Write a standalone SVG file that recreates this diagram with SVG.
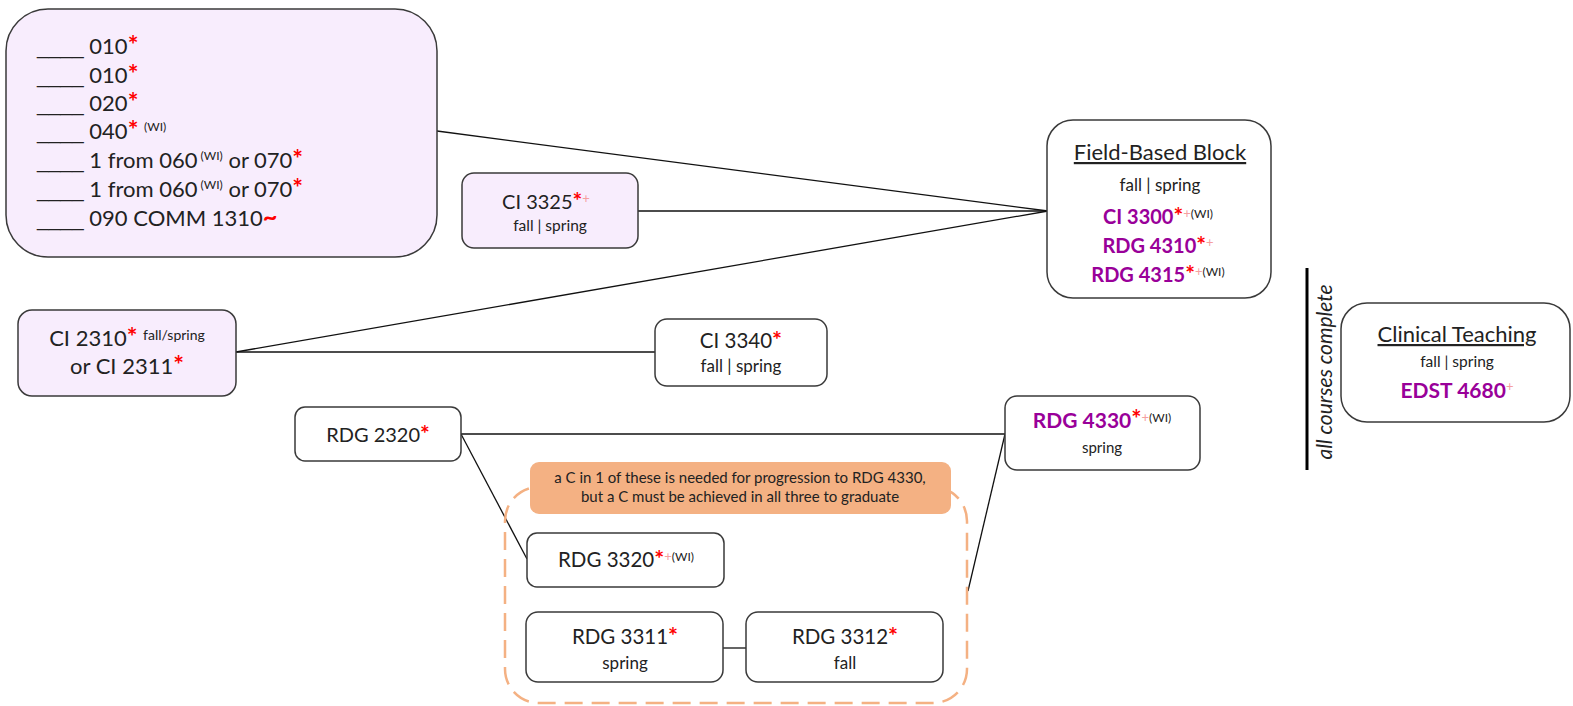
<svg xmlns="http://www.w3.org/2000/svg" width="1573" height="706" viewBox="0 0 1573 706">
<style>
.box{fill:#ffffff;stroke:#3a3a3a;stroke-width:1.5}
.lav{fill:#f8edfd}
.t{font-family:Lato,"Open Sans","Liberation Sans",sans-serif;fill:#222222}
.u{font-family:"Liberation Sans",Arial,sans-serif;font-size:21px}
.l20{font-size:20px}
.l22{font-size:22px}
.l15{font-size:15px}
.l16{font-size:15.5px}
.l17{font-size:17px}
.ast{fill:#ff0000;font-weight:bold;font-size:1.15em}
.plus{fill:#f5a0a0;font-size:13px}
.sup{font-size:12px}
.pur{fill:#990099;font-weight:bold}
.conn{stroke:#111111;stroke-width:1.3;fill:none}
</style>
<rect width="1573" height="706" fill="#ffffff"/>
<g id="connectors">
<line class="conn" x1="437" y1="131" x2="1048" y2="211"/>
<line class="conn" x1="638" y1="211" x2="1048" y2="211"/>
<line class="conn" x1="236" y1="352" x2="1048" y2="211"/>
<line class="conn" x1="236" y1="352" x2="655" y2="352"/>
<line class="conn" x1="461" y1="434" x2="1005" y2="434"/>
<line class="conn" x1="461" y1="434" x2="527" y2="559"/>
<line class="conn" x1="1005" y1="434" x2="968" y2="591"/>
<line class="conn" x1="723" y1="648" x2="746" y2="648"/>
</g>
<g id="gen-ed">
<rect class="box lav" x="6" y="9" width="431" height="248" rx="42"/>
<text class="t l22" x="37" y="54"><tspan class="u">____</tspan> 010<tspan class="ast">*</tspan></text>
<text class="t l22" x="37" y="83"><tspan class="u">____</tspan> 010<tspan class="ast">*</tspan></text>
<text class="t l22" x="37" y="111"><tspan class="u">____</tspan> 020<tspan class="ast">*</tspan></text>
<text class="t l22" x="37" y="139"><tspan class="u">____</tspan> 040<tspan class="ast">*</tspan> <tspan class="sup" dy="-8">(WI)</tspan></text>
<text class="t l22" x="37" y="168"><tspan class="u">____</tspan> 1 from 060<tspan class="sup" dy="-8"> (WI)</tspan><tspan dy="8"> or 070</tspan><tspan class="ast">*</tspan></text>
<text class="t l22" x="37" y="197"><tspan class="u">____</tspan> 1 from 060<tspan class="sup" dy="-8"> (WI)</tspan><tspan dy="8"> or 070</tspan><tspan class="ast">*</tspan></text>
<text class="t l22" x="37" y="226"><tspan class="u">____</tspan> 090 COMM 1310<tspan class="ast">~</tspan></text>
</g>
<g id="ci3325">
<rect class="box lav" x="462" y="173" width="176" height="75" rx="12"/>
<text class="t l20" x="546" y="209" text-anchor="middle">CI 3325<tspan class="ast">*</tspan><tspan class="plus" dy="-6">+</tspan></text>
<text class="t l16" x="550" y="231" text-anchor="middle">fall | spring</text>
</g>
<g id="field-based-block">
<rect class="box" x="1047" y="120" width="224" height="178" rx="26"/>
<text class="t l22" x="1160" y="160" text-anchor="middle" text-decoration="underline">Field-Based Block</text>
<text class="t l17" x="1160" y="191" text-anchor="middle">fall | spring</text>
<text class="t l20" x="1158" y="224" text-anchor="middle"><tspan class="pur">CI 3300</tspan><tspan class="ast">*</tspan><tspan class="plus" dy="-6">+</tspan><tspan class="sup">(WI)</tspan></text>
<text class="t l20" x="1158" y="253" text-anchor="middle"><tspan class="pur">RDG 4310</tspan><tspan class="ast">*</tspan><tspan class="plus" dy="-6">+</tspan></text>
<text class="t l20" x="1158" y="282" text-anchor="middle"><tspan class="pur">RDG 4315</tspan><tspan class="ast">*</tspan><tspan class="plus" dy="-6">+</tspan><tspan class="sup">(WI)</tspan></text>
</g>
<g id="all-courses-complete">
<line x1="1307" y1="268" x2="1307" y2="470" stroke="#000000" stroke-width="3"/>
<text class="t" font-size="21" font-style="italic" transform="translate(1332,372) rotate(-90)" text-anchor="middle">all courses complete</text>
</g>
<g id="clinical-teaching">
<rect class="box" x="1341" y="303" width="229" height="119" rx="26"/>
<text class="t l22" x="1457" y="342" text-anchor="middle" text-decoration="underline">Clinical Teaching</text>
<text class="t l16" x="1457" y="367" text-anchor="middle">fall | spring</text>
<text class="t" font-size="21" x="1457" y="398" text-anchor="middle"><tspan class="pur">EDST 4680</tspan><tspan class="plus" dy="-7">+</tspan></text>
</g>
<g id="ci2310">
<rect class="box lav" x="18" y="310" width="218" height="86" rx="14"/>
<text class="t l22" x="127" y="346" text-anchor="middle">CI 2310<tspan class="ast">*</tspan> <tspan font-size="14" dy="-6">fall/spring</tspan></text>
<text class="t l22" x="127" y="374" text-anchor="middle">or CI 2311<tspan class="ast">*</tspan></text>
</g>
<g id="ci3340">
<rect class="box" x="655" y="319" width="172" height="67" rx="12"/>
<text class="t" font-size="20.5" x="741" y="348" text-anchor="middle">CI 3340<tspan class="ast">*</tspan></text>
<text class="t l17" x="741" y="372" text-anchor="middle">fall | spring</text>
</g>
<g id="rdg2320">
<rect class="box" x="295" y="407" width="166" height="54" rx="10"/>
<text class="t l20" x="378" y="442" text-anchor="middle">RDG 2320<tspan class="ast">*</tspan></text>
</g>
<g id="rdg4330">
<rect class="box" x="1005" y="396" width="195" height="74" rx="12"/>
<text class="t" font-size="21" x="1102" y="428" text-anchor="middle"><tspan class="pur">RDG 4330</tspan><tspan class="ast">*</tspan><tspan class="plus" dy="-6">+</tspan><tspan class="sup">(WI)</tspan></text>
<text class="t l15" x="1102" y="453" text-anchor="middle">spring</text>
</g>
<g id="rdg33xx-group">
<rect x="505" y="487" width="462" height="216" rx="34" fill="none" stroke="#f4b183" stroke-width="2.5" stroke-dasharray="18 9"/>
</g>
<g id="note">
<rect x="530" y="462" width="421" height="52" rx="9" fill="#f4b183"/>
<text class="t l15" x="740" y="483" text-anchor="middle">a C in 1 of these is needed for progression to RDG 4330,</text>
<text class="t l15" x="740" y="502" text-anchor="middle">but a C must be achieved in all three to graduate</text>
</g>
<g id="rdg3320">
<rect class="box" x="527" y="533" width="197" height="54" rx="10"/>
<text class="t" font-size="20.5" x="626" y="567" text-anchor="middle">RDG 3320<tspan class="ast">*</tspan><tspan class="plus" dy="-6">+</tspan><tspan class="sup">(WI)</tspan></text>
</g>
<g id="rdg3311">
<rect class="box" x="526" y="612" width="197" height="70" rx="12"/>
<text class="t" font-size="20.5" x="625" y="644" text-anchor="middle">RDG 3311<tspan class="ast">*</tspan></text>
<text class="t l17" x="625" y="669" text-anchor="middle">spring</text>
</g>
<g id="rdg3312">
<rect class="box" x="746" y="612" width="197" height="70" rx="12"/>
<text class="t" font-size="20.5" x="845" y="644" text-anchor="middle">RDG 3312<tspan class="ast">*</tspan></text>
<text class="t l17" x="845" y="669" text-anchor="middle">fall</text>
</g>
</svg>
